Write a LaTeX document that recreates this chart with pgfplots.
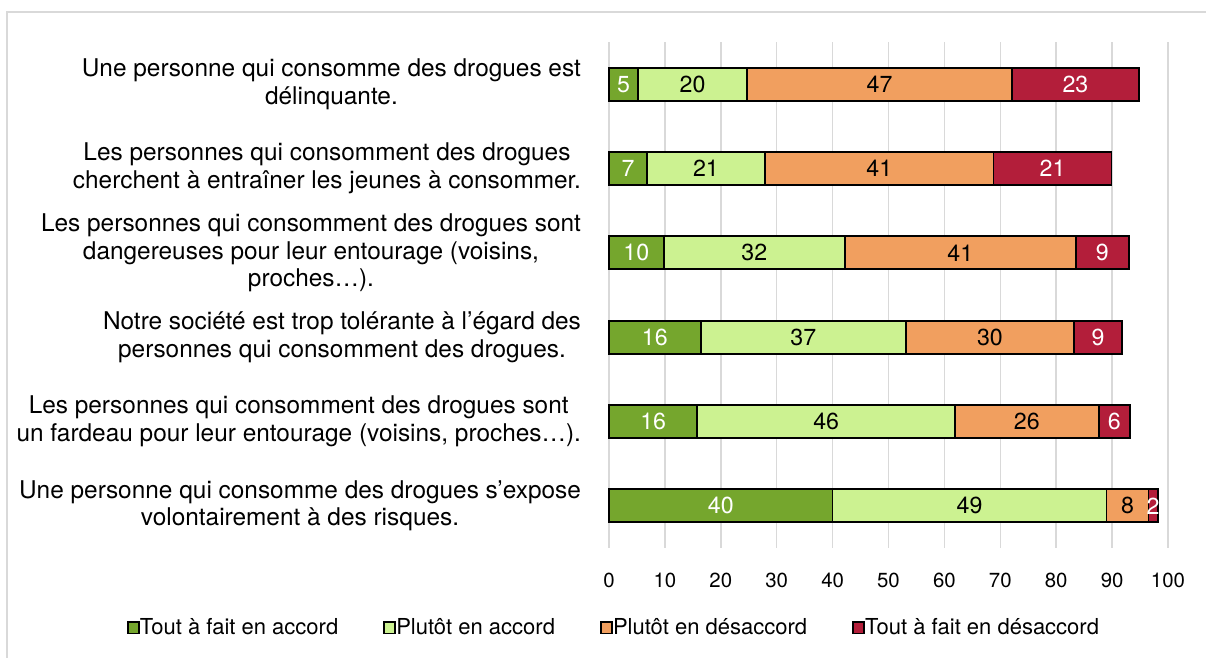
\documentclass[border=0pt]{standalone}
\usepackage{pgfplots}
\pgfplotsset{compat=1.18}
\usepackage{fontspec}
\setmainfont{TeX Gyre Heros}
\definecolor{cA}{HTML}{75A62D}
\definecolor{cB}{HTML}{CCF291}
\definecolor{cC}{HTML}{F19F5F}
\definecolor{cD}{HTML}{B31E3A}
\definecolor{gridc}{HTML}{D9D9D9}
\begin{document}
\begin{tikzpicture}
\useasboundingbox (0,0) rectangle (603pt,329pt);
\fill[white] (0,0) rectangle (603pt,329pt);
\draw[gridc, line width=0.75pt] (3.5pt,-2pt) -- (3.5pt,323pt) -- (610pt,323pt);
\begin{axis}[
  at={(304.5pt,55pt)}, anchor=south west,
  scale only axis, width=279.5pt, height=253pt,
  xbar stacked, bar width=16.5pt,
  xmin=0, xmax=100, ymin=0.5, ymax=6.5,
  y dir=reverse,
  axis line style={draw=none},
  major tick length=0pt,
  xtick={0,10,...,100},
  xmajorgrids, grid style={gridc, line width=0.75pt},
  ytick={1,2,3,4,5,6},
  yticklabels={
    {Une personne qui consomme des drogues est\\délinquante.},
    {Les personnes qui consomment des drogues\\cherchent à entraîner les jeunes à consommer.},
    {Les personnes qui consomment des drogues sont\\dangereuses pour leur entourage (voisins,\\proches…).},
    {Notre société est trop tolérante à l’égard des\\personnes qui consomment des drogues.},
    {Les personnes qui consomment des drogues sont\\un fardeau pour leur entourage (voisins, proches…).},
    {Une personne qui consomme des drogues s’expose\\volontairement à des risques.}},
  yticklabel style={align=center, font=\fontsize{12.2}{13.8}\selectfont, xshift=-10.5pt},
  xticklabel style={font=\fontsize{10.2}{12}\selectfont, yshift=-9pt},
  /pgf/number format/assume math mode=true,
  nodes near coords, point meta=explicit symbolic,
  every node near coord/.append style={font=\fontsize{11.6}{13}\selectfont},
  legend columns=4,
  legend style={draw=none, fill=none, at={(0.0107,-0.158)}, anchor=center,
    font=\fontsize{11}{13}\selectfont,
    /tikz/every even column/.append style={column sep=20.5pt},
    /tikz/every odd column/.append style={column sep=-2pt}},
  legend image code/.code={\draw[#1, draw=black, line width=0.9pt] (0pt,-2.8pt) rectangle (5.6pt,2.8pt);},
  clip=false,
]
\addplot[fill=cA, draw=black, line width=0.85pt, every node near coord/.append style={text=white}] coordinates {
  (5.2,1) [5] (6.8,2) [7] (9.8,3) [10] (16.4,4) [16] (15.8,5) [16] (40.0,6) [40]};
\addplot[fill=cB, draw=black, line width=0.85pt, every node near coord/.append style={text=black}] coordinates {
  (19.5,1) [20] (21.1,2) [21] (32.4,3) [32] (36.7,4) [37] (46.1,5) [46] (49.0,6) [49]};
\addplot[fill=cC, draw=black, line width=0.85pt, every node near coord/.append style={text=black}] coordinates {
  (47.4,1) [47] (40.9,2) [41] (41.3,3) [41] (30.1,4) [30] (25.7,5) [26] (7.5,6) [8]};
\addplot[fill=cD, draw=black, line width=0.85pt, every node near coord/.append style={text=white}] coordinates {
  (22.7,1) [23] (21.1,2) [21] (9.5,3) [9] (8.6,4) [9] (5.6,5) [6] (1.7,6) [2]};
\legend{Tout à fait en accord, Plutôt en accord, Plutôt en désaccord, Tout à fait en désaccord}
\end{axis}
\end{tikzpicture}
\end{document}
